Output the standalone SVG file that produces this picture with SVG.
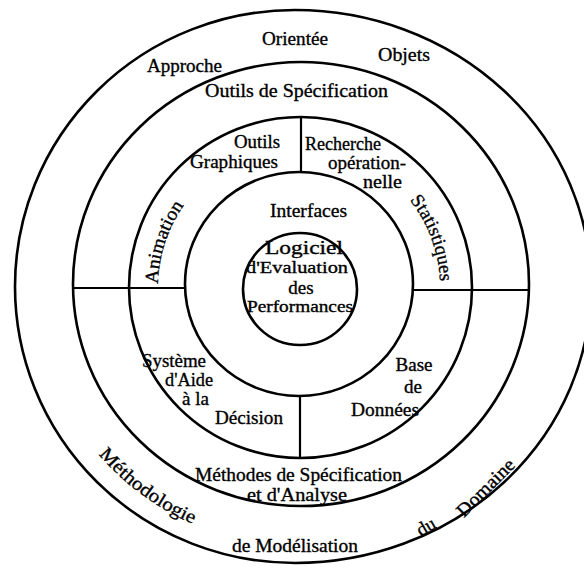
<svg xmlns="http://www.w3.org/2000/svg" width="584" height="573" viewBox="0 0 584 573">
<style>
.ring{fill:none;stroke:#000;stroke-width:2.6}
.div{stroke:#000;stroke-width:2.2}
text{font-family:"Liberation Serif","Times New Roman",serif;font-size:19px;fill:#000;stroke:#000;stroke-width:0.35}
.c{font-size:16.5px}
</style>
<defs>
<path id="pAnim" d="M158,287 A142,142 0 0 1 191,196"/>
<path id="pStat" d="M404,193.3 A140,140 0 0 1 440,290"/>
<path id="pMeth" d="M97.4,452.8 A258,258 0 0 0 206.8,529.4"/>
</defs>
<rect width="584" height="573" fill="#fff"/>
<g id="rings">
<path id="ring-outer" class="ring" d="M295,10 A296,276.5 0 0 1 295,563 A280,276.5 0 0 1 295,10 Z"/>
<ellipse id="ring-b" class="ring" cx="301" cy="284" rx="228" ry="222"/>
<ellipse id="ring-c" class="ring" cx="300.5" cy="287.5" rx="171.5" ry="170.5"/>
<ellipse id="ring-d" class="ring" cx="299" cy="284" rx="114" ry="112"/>
<ellipse id="ring-e" class="ring" cx="300" cy="289" rx="57" ry="56"/>
</g>
<g id="connectors">
<line class="div" x1="301" y1="117" x2="301" y2="172"/>
<line class="div" x1="300" y1="396" x2="300" y2="458"/>
<line class="div" x1="73" y1="288" x2="185" y2="288"/>
<line class="div" x1="413" y1="290" x2="529" y2="290"/>
</g>
<g id="outer-ring-labels">
<text x="147" y="72" textLength="75" lengthAdjust="spacingAndGlyphs">Approche</text>
<text x="262" y="45" textLength="66" lengthAdjust="spacingAndGlyphs">Orientée</text>
<text x="378" y="61" textLength="52" lengthAdjust="spacingAndGlyphs">Objets</text>
<text><textPath href="#pMeth" startOffset="2" textLength="118" lengthAdjust="spacingAndGlyphs">Méthodologie</textPath></text>
<text x="232" y="552" textLength="126" lengthAdjust="spacingAndGlyphs">de Modélisation</text>
<text transform="translate(429,532) rotate(-30)" text-anchor="middle">du</text>
<text transform="translate(490,492) rotate(-45)" text-anchor="middle" textLength="74" lengthAdjust="spacingAndGlyphs">Domaine</text>
</g>
<g id="spec-ring-labels">
<text x="205" y="97" textLength="183" lengthAdjust="spacingAndGlyphs">Outils de Spécification</text>
<text x="195" y="481" textLength="207" lengthAdjust="spacingAndGlyphs">Méthodes de Spécification</text>
<text x="247" y="501" textLength="100" lengthAdjust="spacingAndGlyphs">et d'Analyse</text>
</g>
<g id="node-outils-graphiques">
<text x="234" y="148" textLength="46" lengthAdjust="spacingAndGlyphs">Outils</text>
<text x="190" y="168" textLength="88" lengthAdjust="spacingAndGlyphs">Graphiques</text>
</g>
<g id="node-recherche">
<text x="305" y="150" textLength="76" lengthAdjust="spacingAndGlyphs">Recherche</text>
<text x="328" y="169" textLength="78" lengthAdjust="spacingAndGlyphs">opération-</text>
<text x="363" y="188" textLength="39" lengthAdjust="spacingAndGlyphs">nelle</text>
</g>
<g id="node-animation">
<text><textPath href="#pAnim" startOffset="3" textLength="84" lengthAdjust="spacingAndGlyphs">Animation</textPath></text>
</g>
<g id="node-statistiques">
<text><textPath href="#pStat" startOffset="9" textLength="88" lengthAdjust="spacingAndGlyphs">Statistiques</textPath></text>
</g>
<g id="node-aide-decision">
<text x="142" y="367" textLength="64" lengthAdjust="spacingAndGlyphs">Système</text>
<text x="165" y="386" textLength="48" lengthAdjust="spacingAndGlyphs">d'Aide</text>
<text x="182" y="405">à la</text>
<text x="215" y="424" textLength="68" lengthAdjust="spacingAndGlyphs">Décision</text>
</g>
<g id="node-base-donnees">
<text x="414" y="371" text-anchor="middle">Base</text>
<text x="413" y="393" text-anchor="middle">de</text>
<text x="351" y="416" textLength="68" lengthAdjust="spacingAndGlyphs">Données</text>
</g>
<g id="node-interfaces">
<text x="270" y="217" textLength="77" lengthAdjust="spacingAndGlyphs">Interfaces</text>
</g>
<g id="node-logiciel">
<text x="265" y="254" textLength="78" lengthAdjust="spacingAndGlyphs">Logiciel</text>
<text class="c" x="246" y="273" textLength="102" lengthAdjust="spacingAndGlyphs">d'Evaluation</text>
<text x="301" y="294" text-anchor="middle" font-size="14">des</text>
<text class="c" x="247" y="312" textLength="106" lengthAdjust="spacingAndGlyphs">Performances</text>
</g>
</svg>
